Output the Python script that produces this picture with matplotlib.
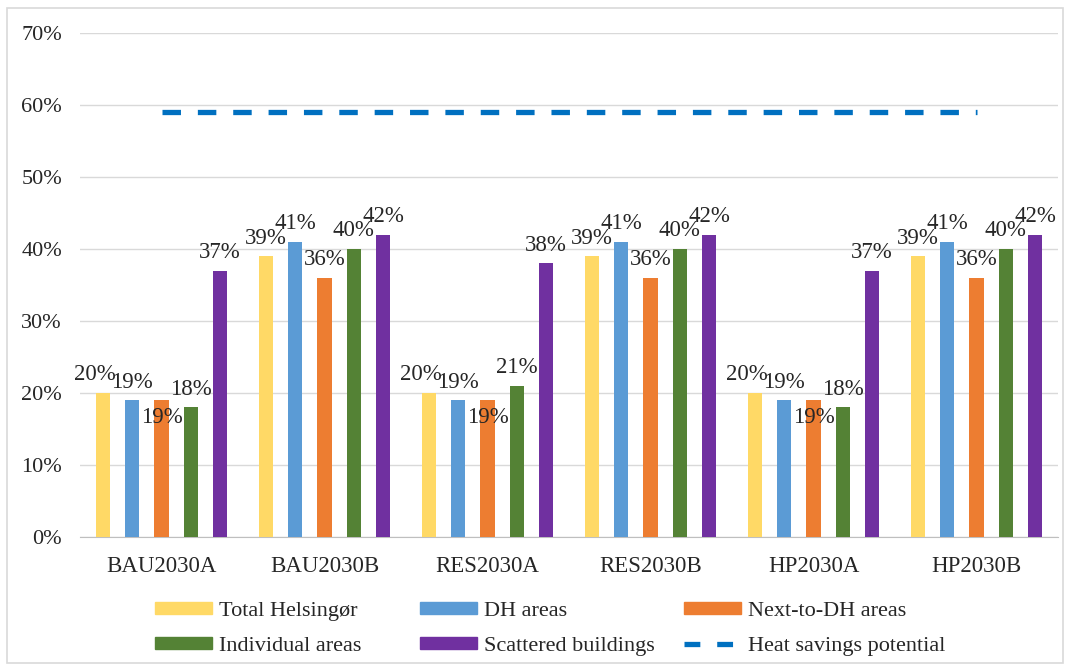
import matplotlib
matplotlib.use("Agg")
import matplotlib.pyplot as plt
import numpy as np
from matplotlib.patches import Rectangle, Patch
from matplotlib.lines import Line2D

scenarios = ["BAU2030A", "BAU2030B", "RES2030A", "RES2030B", "HP2030A", "HP2030B"]
series_names = ["Total Helsingør", "DH areas", "Next-to-DH areas",
                "Individual areas", "Scattered buildings"]
total_helsingor = [20, 39, 20, 39, 20, 39]
dh_areas = [19, 41, 19, 41, 19, 41]
next_to_dh = [19, 36, 19, 36, 19, 36]
individual = [18, 40, 21, 40, 18, 40]
scattered = [37, 42, 38, 42, 37, 42]
heat_savings = [59, 59, 59, 59, 59, 59]
heat_label = "Heat savings potential"

COLORS = ["#FFD966", "#5B9BD5", "#ED7D31", "#548235", "#7030A0"]
LINE_COLOR = "#0070C0"
TXT = "#262626"

plt.rcParams.update({"font.family": ["Liberation Serif", "DejaVu Serif"]})

fig = plt.figure(figsize=(10.71, 6.68), dpi=100)
fig.patches.append(Rectangle((7 / 1071, 5 / 668), 1056 / 1071, 655 / 668,
                             transform=fig.transFigure, fill=False,
                             ec="#d9d9d9", lw=1.2))
ax = fig.add_axes([80 / 1071, 1 - 537 / 668, 978 / 1071, 504 / 668])

x = np.arange(len(scenarios))
series = [total_helsingor, dh_areas, next_to_dh, individual, scattered]
offsets = [-0.36, -0.18, 0.0, 0.18, 0.36]
width = 0.088
for i, (vals, col, off) in enumerate(zip(series, COLORS, offsets)):
    ax.bar(x + off, vals, width, color=col, zorder=3)
    for j, v in enumerate(vals):
        low = v < 30
        below = (i == 2 and low)      # Excel pushed these under the bar top
        dx = -6 if (i == 0 and low) else 0
        ax.annotate(f"{v}%", (x[j] + off, v),
                    xytext=(dx, -5 if below else 9), textcoords="offset points",
                    ha="center", va="top" if below else "baseline",
                    fontsize=16.5, color=TXT, zorder=4)

ax.plot(x, heat_savings, color=LINE_COLOR, lw=3.8, dashes=(3.5, 3.2),
        solid_capstyle="butt", zorder=3)

ax.set_xlim(-0.5, 5.5)
ax.set_ylim(0, 70)
ax.set_yticks(range(0, 71, 10))
ax.set_yticklabels([f"{t}%" for t in range(0, 71, 10)], fontsize=16)
ax.set_xticks(x)
ax.set_xticklabels(scenarios, fontsize=16.5)
ax.tick_params(length=0, colors=TXT)
ax.tick_params(axis="y", pad=13)
ax.tick_params(axis="x", pad=14)
ax.grid(axis="y", color="#d9d9d9", lw=1, zorder=0)
for s in ["top", "right", "left"]:
    ax.spines[s].set_visible(False)
ax.spines["bottom"].set_color("#bfbfbf")

handles = [Patch(color=c, label=n) for c, n in zip(COLORS, series_names)]
handles.append(Line2D([], [], color=LINE_COLOR, lw=3.8, dashes=(3.0, 3.2),
                      label=heat_label))
cols = [(155, [handles[0], handles[3]]),
        (420, [handles[1], handles[4]]),
        (684, [handles[2], handles[5]])]
for xp, hs in cols:
    leg = fig.legend(handles=hs, loc="upper left",
                     bbox_to_anchor=(xp / 1071, 1 - 602 / 668),
                     frameon=False, fontsize=16, handlelength=2.55,
                     handleheight=0.4, handletextpad=0.35, labelspacing=0.72,
                     borderpad=0, borderaxespad=0)
    for t in leg.get_texts():
        t.set_color(TXT)

fig.savefig("out.png", dpi=100)
